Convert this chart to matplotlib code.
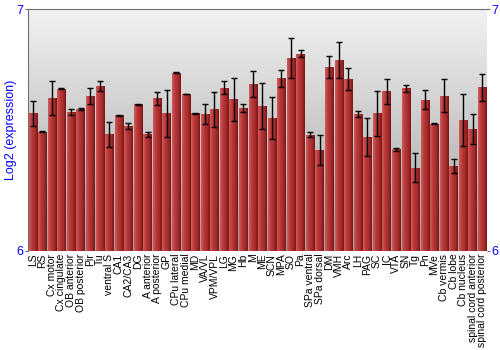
import numpy as np
import matplotlib
matplotlib.use("Agg")
import matplotlib.pyplot as plt
from matplotlib.colors import LinearSegmentedColormap

# ---- data ----
regions = ["LS", "RS", "Cx motor", "Cx cingulate", "OB anterior", "OB posterior",
           "Pir", "Tu", "ventral S", "CA1", "CA2/CA3", "DG", "A anterior",
           "A posterior", "GP", "CPu lateral", "CPu medial", "MD", "VA/VL",
           "VPM/VPL", "LG", "MG", "Hb", "M", "ME", "SCN", "MPA", "SO", "Pa",
           "SPa ventral", "SPa dorsal", "DM", "VMH", "Arc", "LH", "PAG", "SC",
           "IC", "VTA", "SN", "Tg", "Pn", "MVe", "Cb vermis", "Cb lobe",
           "Cb nucleus", "spinal cord anterior", "spinal cord posterior"]
expr = [6.569, 6.492, 6.633, 6.670, 6.575, 6.588, 6.641, 6.681, 6.482, 6.562,
        6.518, 6.606, 6.483, 6.631, 6.569, 6.736, 6.649, 6.569, 6.566, 6.585,
        6.674, 6.628, 6.591, 6.692, 6.600, 6.550, 6.714, 6.797, 6.815, 6.481,
        6.417, 6.761, 6.790, 6.710, 6.565, 6.471, 6.569, 6.660, 6.421, 6.672,
        6.345, 6.625, 6.525, 6.642, 6.351, 6.542, 6.505, 6.677]
err = [0.053, 0.002, 0.070, 0.002, 0.012, 0.005, 0.034, 0.020, 0.053, 0.002,
       0.012, 0.002, 0.010, 0.026, 0.096, 0.002, 0.002, 0.002, 0.040, 0.072,
       0.027, 0.089, 0.018, 0.054, 0.096, 0.087, 0.035, 0.083, 0.014, 0.011,
       0.063, 0.045, 0.073, 0.046, 0.012, 0.077, 0.093, 0.051, 0.006, 0.014,
       0.061, 0.040, 0.002, 0.069, 0.029, 0.108, 0.063, 0.056]

plt.rcParams['font.family'] = ['Liberation Sans', 'DejaVu Sans']

fig = plt.figure(figsize=(5, 3.5), dpi=100)
ax = fig.add_axes([0.056, 0.283, 0.918, 0.691])

x = np.arange(len(regions))
ymin, ymax = 6.0, 7.0
ax.set_xlim(-0.5, len(regions) - 0.5)
ax.set_ylim(ymin, ymax)

# gray gradient background, light at top
bg = LinearSegmentedColormap.from_list("bg", ["#f2f2f2", "#a0a0a0"])
grad = np.linspace(0, 1, 256).reshape(-1, 1)
ax.imshow(grad, cmap=bg, aspect='auto', extent=[-0.5, len(regions) - 0.5, ymin, ymax],
          origin='upper', zorder=0)

# bars with horizontal shading
barcm = LinearSegmentedColormap.from_list("bar", ["#d25a5a", "#b83a3a", "#a82c2c", "#7a1616"])
hgrad = np.linspace(0, 1, 64).reshape(1, -1)
bars = ax.bar(x, np.array(expr) - ymin, bottom=ymin, width=0.88, color='#a82c2c',
              edgecolor='none', zorder=2)
for b in bars:
    im = ax.imshow(hgrad, cmap=barcm, aspect='auto',
                   extent=[b.get_x(), b.get_x() + b.get_width(), ymin, b.get_y() + b.get_height()],
                   zorder=3)
    im.set_clip_path(b)

ax.errorbar(x, expr, yerr=err, fmt='none', ecolor='black', elinewidth=1,
            capsize=2, capthick=1, zorder=4)

# axes styling
for s in ['right', 'bottom']:
    ax.spines[s].set_visible(False)
for s in ['left', 'top']:
    ax.spines[s].set_color('#707070')
ax.set_yticks([6, 7])
ax.tick_params(axis='y', colors='#707070', labelcolor='blue', labelsize=9,
               length=2, pad=1, left=True, right=True, labelleft=True, labelright=True)
ax.set_xticks(x)
ax.set_xticklabels(regions, rotation=90, fontsize=7.5)
ax.tick_params(axis='x', length=0, pad=2)
ax.set_ylabel("Log2 (expression)", color='blue', fontsize=9, labelpad=0)

fig.savefig("out.png", dpi=100)
